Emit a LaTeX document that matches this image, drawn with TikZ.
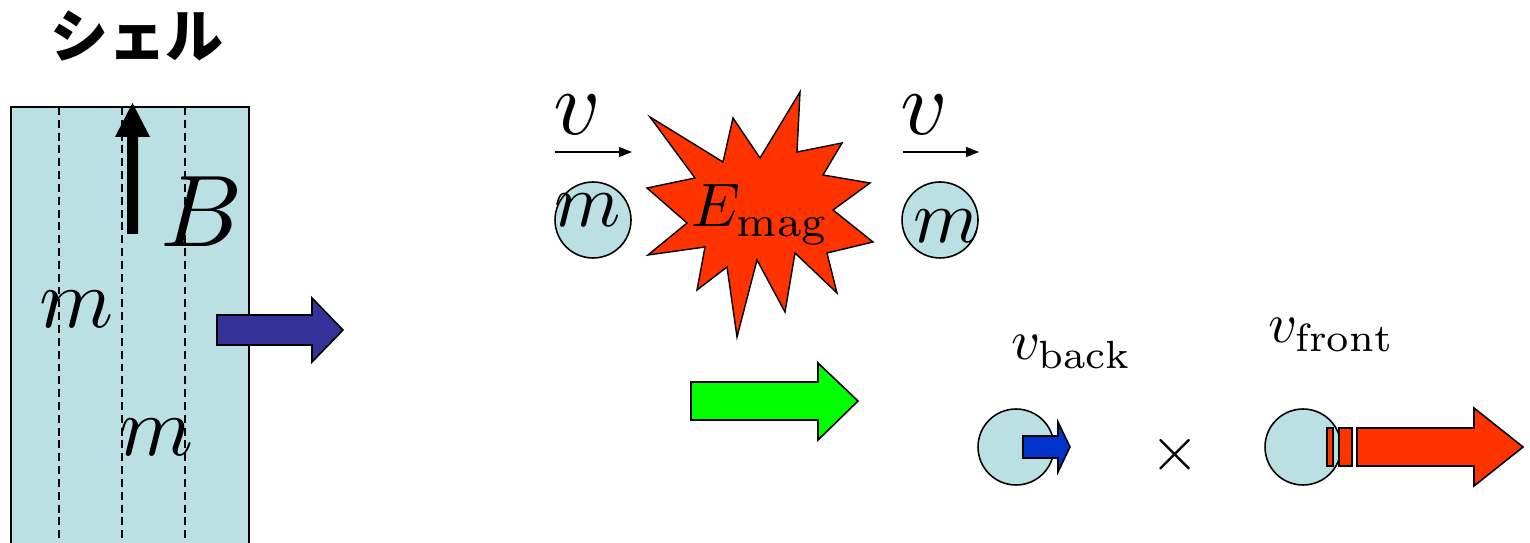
\documentclass[tikz,border=0pt]{standalone}
\usepackage{fontspec}
\newfontfamily\jpfont{Noto Sans CJK JP}
\usetikzlibrary{arrows.meta}

\definecolor{shellblue}{HTML}{BBE0E3}
\definecolor{navyarrow}{HTML}{333399}
\definecolor{burstred}{HTML}{FF3300}
\definecolor{kickblue}{HTML}{0033CC}
\definecolor{pushgreen}{HTML}{00FF00}

\tikzset{
    ball/.style={circle, draw, fill=shellblue, line width=0.9pt, minimum size=1.52cm, inner sep=0pt},
    blockarrow/.style={draw, line width=0.9pt, line join=miter},
    mathlabel/.style={inner sep=0pt, anchor=base},
    velarrow/.style={line width=0.6pt, -{Triangle[length=0.26cm, width=0.2cm]}}
}

\begin{document}
\begin{tikzpicture}[x=0.02cm, y=-0.02cm]
    \useasboundingbox (0,0) rectangle (1530,543);
    \clip (0,0) rectangle (1530,543);

    % shell
    \node[font=\jpfont\bfseries\fontsize{33pt}{36pt}\selectfont] (title) at (137,36) {シェル};
    \draw[fill=shellblue, line width=0.9pt] (11,107) rectangle (249,570);
    \foreach \x in {59,122,185}
        \draw[line width=0.9pt, dash pattern=on 4.5pt off 2.8pt] (\x,107) -- (\x,543);
    \fill (127,234) -- (127,137) -- (115,137) -- (132.5,103) -- (150,137) -- (138,137) -- (138,234) -- cycle;
    \node[mathlabel, scale=5.8] (bfield) at (202,247) {$B$};
    \node[mathlabel, scale=4.8] (mupper) at (77,328) {$m$};
    \node[mathlabel, scale=4.8] (mlower) at (157,455) {$m$};
    \draw[blockarrow, fill=navyarrow] (217,315) -- (312,315) -- (312,298) -- (343,330) -- (312,362) -- (312,345) -- (217,345) -- cycle;

    % collision
    \node[ball] (ballin) at (593,220) {};
    \node[mathlabel, scale=4.3] (mleft) at (588,227) {$m$};
    \node[mathlabel, scale=5.2] (vleft) at (577,135) {$v$};
    \coordinate (vleftA) at (555,152);
    \coordinate (vleftB) at (632,152);
    \draw[velarrow] (vleftA) -- (vleftB);

    \draw[fill=burstred, line width=0.8pt] (650,117) -- (723,162) -- (733,118) -- (760,158) -- (800,92) -- (797,152)
        -- (842,143) -- (823,175) -- (870,183) -- (833,210) -- (873,242) -- (827,253) -- (837,293) -- (795,253)
        -- (785,312) -- (757,260) -- (737,337) -- (727,267) -- (697,290) -- (705,247) -- (648,255) -- (687,223)
        -- (647,188) -- (695,178) -- cycle;
    \node[inner sep=0pt, anchor=base west, scale=3.5] (emag) at (690,227) {$E_{\mathrm{mag}}$};

    \node[ball] (ballout) at (940,220) {};
    \node[mathlabel, scale=4.3] (mright) at (947,243) {$m$};
    \node[mathlabel, scale=5.2] (vright) at (924,135) {$v$};
    \coordinate (vrightA) at (903,152);
    \coordinate (vrightB) at (979,152);
    \draw[velarrow] (vrightA) -- (vrightB);

    \draw[blockarrow, fill=pushgreen] (691,382) -- (818,382) -- (818,363) -- (858,401) -- (818,440) -- (818,420) -- (691,420) -- cycle;

    % back and front
    \node[ball] (ballback) at (1016,447) {};
    \draw[blockarrow, fill=kickblue] (1023,436) -- (1058,436) -- (1058,422) -- (1070,447) -- (1058,472) -- (1058,458) -- (1023,458) -- cycle;
    \node[inner sep=0pt, anchor=base west, scale=3.2] (vback) at (1010,360) {$v_{\mathrm{back}}$};

    \node[scale=3.6] (times) at (1175,455) {$\times$};

    \node[ball] (ballfront) at (1303,447) {};
    \draw[blockarrow, fill=burstred] (1327,428) rectangle (1333,466);
    \draw[blockarrow, fill=burstred] (1339,428) rectangle (1352,466);
    \draw[blockarrow, fill=burstred] (1357,428) -- (1474,428) -- (1474,408) -- (1523,447) -- (1474,486) -- (1474,466) -- (1357,466) -- cycle;
    \node[inner sep=0pt, anchor=base west, scale=3.2] (vfront) at (1267,343) {$v_{\mathrm{front}}$};
\end{tikzpicture}
\end{document}
